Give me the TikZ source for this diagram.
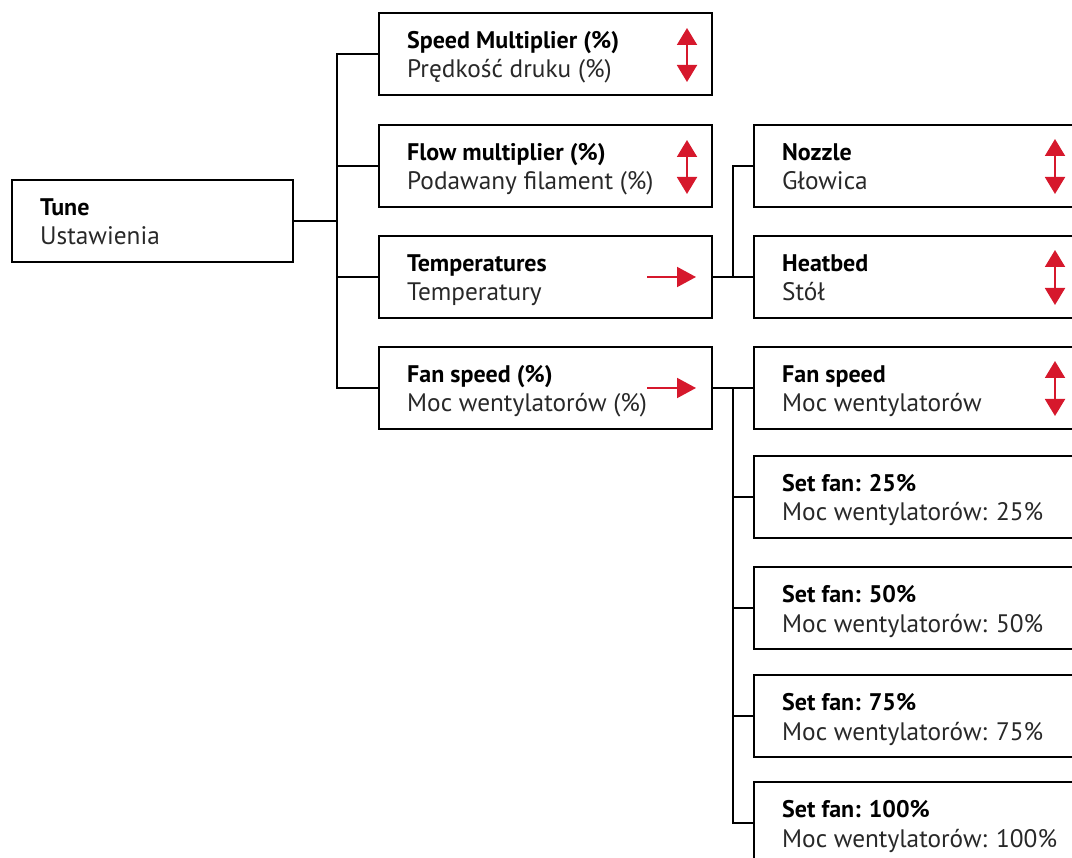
\documentclass[tikz,border=0pt]{standalone}
\usepackage{fontspec}
\setmainfont{PT Sans}
\usetikzlibrary{arrows.meta}
\definecolor{menured}{RGB}{214,24,44}
\definecolor{subgray}{RGB}{40,40,40}
\tikzset{
  menubox/.style={draw=black, line width=2pt, inner sep=0pt, anchor=north west,
    minimum height=82pt},
  titletext/.style={anchor=base west, inner sep=0pt,
    font=\fontsize{24}{28}\selectfont\bfseries},
  subtext/.style={anchor=base west, inner sep=0pt, text=subgray,
    font=\fontsize{25.3}{29}\selectfont},
  link/.style={draw=black, line width=2pt},
  updown/.style={draw=menured, line width=2pt,
    {Triangle[length=17pt,width=20pt]}-{Triangle[length=17pt,width=20pt]}},
  goright/.style={draw=menured, line width=2pt, -{Triangle[length=19pt,width=20pt]}},
}
% one menu entry: name, left, top, width, title line, second line
\newcommand\menuitem[6]{%
  \node[menubox, minimum width=#4pt] (#1) at (#2,#3) {};
  \node[titletext] (#1-title) at ([xshift=29pt,yshift=5.5pt]#1.west) {#5};
  \node[subtext] (#1-sub) at ([xshift=29pt,yshift=-24pt]#1.west) {#6};
}
\begin{document}
\begin{tikzpicture}[x=1pt,y=-1pt]
\useasboundingbox (0,0) rectangle (1072,858);
\clip (0,0) rectangle (1072,858);

% root
\menuitem{tune}{11}{179}{281}{Tune}{Ustawienia}

% second level
\menuitem{speed}{378}{12}{333}{Speed Multiplier (\%)}{Prędkość druku (\%)}
\menuitem{flow}{378}{124}{333}{Flow multiplier (\%)}{Podawany filament (\%)}
\menuitem{temps}{378}{235}{333}{Temperatures}{Temperatury}
\menuitem{fan}{378}{346}{333}{Fan speed (\%)}{Moc wentylatorów (\%)}

% third level
\menuitem{nozzle}{753}{124}{342}{Nozzle}{Głowica}
\menuitem{heatbed}{753}{235}{342}{Heatbed}{Stół}
\menuitem{fanspeed}{753}{346}{342}{Fan speed}{Moc wentylatorów}
\menuitem{set25}{753}{455}{342}{Set fan: 25\%}{Moc wentylatorów: 25\%}
\menuitem{set50}{753}{566}{342}{Set fan: 50\%}{Moc wentylatorów: 50\%}
\menuitem{set75}{753}{674}{342}{Set fan: 75\%}{Moc wentylatorów: 75\%}
\menuitem{set100}{753}{781}{342}{Set fan: 100\%}{Moc wentylatorów: 100\%}

% branch columns
\coordinate (trunk) at (337,0);
\coordinate (tbranch) at (733,0);
\coordinate (fbranch) at (733,0);

% connectors from the root
\draw[link] (tune.east) -- (tune.east -| trunk);
\draw[link] (speed.west) -- (speed.west -| trunk) -- (fan.west -| trunk) -- (fan.west);
\draw[link] (flow.west) -- (flow.west -| trunk);
\draw[link] (temps.west) -- (temps.west -| trunk);

% temperatures submenu
\draw[link] (temps.east) -- (heatbed.west);
\draw[link] (nozzle.west) -- (nozzle.west -| tbranch) -- (heatbed.west -| tbranch);

% fan submenu
\draw[link] (fan.east) -- (fanspeed.west);
\draw[link] (fanspeed.west -| fbranch) -- (set100.west -| fbranch) -- (set100.west);
\foreach \n in {set25,set50,set75}
  \draw[link] (\n.west) -- (\n.west -| fbranch);

% adjustable values
\foreach \n in {speed,flow}
  \draw[updown] ([xshift=-26pt,yshift=26pt]\n.east) -- ([xshift=-26pt,yshift=-28pt]\n.east);
\foreach \n in {nozzle,heatbed,fanspeed}
  \draw[updown] ([xshift=-42pt,yshift=27pt]\n.east) -- ([xshift=-42pt,yshift=-28pt]\n.east);

% entries that open a submenu
\foreach \n in {temps,fan}
  \draw[goright] ([xshift=-66pt]\n.east) -- ([xshift=-17pt]\n.east);
\end{tikzpicture}
\end{document}
